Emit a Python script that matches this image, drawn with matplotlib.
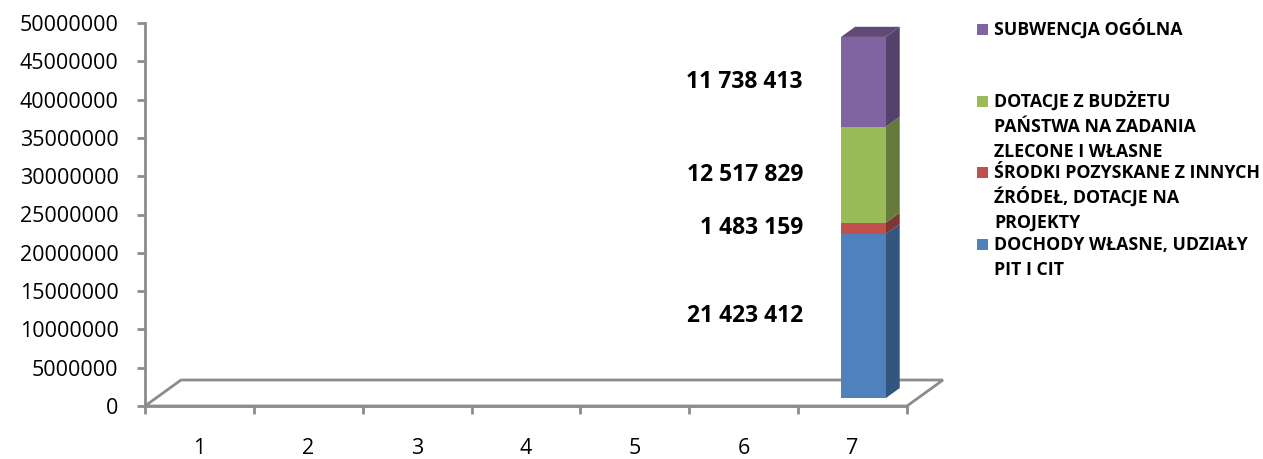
import matplotlib
matplotlib.use("Agg")
import matplotlib.pyplot as plt
from matplotlib.patches import Polygon, Rectangle
from matplotlib.ticker import FuncFormatter
import numpy as np

plt.rcParams['font.family'] = ['Open Sans', 'DejaVu Sans']

# data
categories = [1, 2, 3, 4, 5, 6, 7]
series_names = [
    "DOCHODY WŁASNE, UDZIAŁY\nPIT I CIT",
    "ŚRODKI POZYSKANE Z INNYCH\nŹRÓDEŁ, DOTACJE NA\nPROJEKTY",
    "DOTACJE Z BUDŻETU\nPAŃSTWA NA ZADANIA\nZLECONE I WŁASNE",
    "SUBWENCJA OGÓLNA",
]
# only category 7 has values
series_values = [
    [0, 0, 0, 0, 0, 0, 21423412],
    [0, 0, 0, 0, 0, 0, 1483159],
    [0, 0, 0, 0, 0, 0, 12517829],
    [0, 0, 0, 0, 0, 0, 11738413],
]
data_labels = ["21 423 412", "1 483 159", "12 517 829", "11 738 413"]
yticks = [0, 5000000, 10000000, 15000000, 20000000, 25000000,
          30000000, 35000000, 40000000, 45000000, 50000000]

front_colors = ['#4F81BD', '#C0504D', '#9BBB59', '#8064A2']
axis_gray = '#8C8C8C'


def shade(c, f):
    rgb = np.array(matplotlib.colors.to_rgb(c)) * f
    return tuple(rgb)


W, H = 1263, 459
fig = plt.figure(figsize=(W / 100, H / 100), dpi=100)
ax = fig.add_axes([145 / W, 53 / H, 762 / W, 383 / H])
ax.set_xlim(0.5, 7.5)
ax.set_ylim(0, 50000000)

# 3d depth of floor, in data units
ddx = 36 / (762 / 7)
ddy = 26 * 50000000 / 383
f0, f1 = 0.30, 0.69      # bar depth placement (fraction of floor depth)
bw = 0.41

# floor outline
floor = Polygon([(0.5, 0), (7.5, 0), (7.5 + ddx, ddy), (0.5 + ddx, ddy)],
                closed=True, fill=False, edgecolor=axis_gray, lw=2,
                clip_on=False, zorder=1)
ax.add_patch(floor)

x = np.array(categories, dtype=float) + f0 * ddx
base = f0 * ddy
bdx = (f1 - f0) * ddx
bdy = (f1 - f0) * ddy
cum = np.zeros(len(categories))
for i, vals in enumerate(series_values):
    vals = np.array(vals, dtype=float)
    ax.bar(x, vals, bottom=base + cum, width=bw, color=front_colors[i],
           edgecolor='none', zorder=3, clip_on=False)
    for xi, b, v in zip(x, cum, vals):
        if v <= 0:
            continue
        xr = xi + bw / 2
        b0, t0 = base + b, base + b + v
        side = Polygon([(xr, b0), (xr + bdx, b0 + bdy), (xr + bdx, t0 + bdy), (xr, t0)],
                       closed=True, facecolor=shade(front_colors[i], 0.66),
                       edgecolor='none', zorder=2, clip_on=False)
        ax.add_patch(side)
        # data label
        ax.text(xi - bw / 2 - 0.35, t0 - v / 2, data_labels[i], ha='right', va='center',
                fontsize=16.5, fontweight='bold', color='black')
    cum += vals

# top face of the stack
top_total = base + cum
for xi, t in zip(x, top_total):
    if t <= base:
        continue
    xl, xr = xi - bw / 2, xi + bw / 2
    top = Polygon([(xl, t), (xl + bdx, t + bdy), (xr + bdx, t + bdy), (xr, t)],
                  closed=True, facecolor=shade(front_colors[-1], 0.74),
                  edgecolor='none', zorder=2, clip_on=False)
    ax.add_patch(top)

# axes styling
for s in ['top', 'right']:
    ax.spines[s].set_visible(False)
for s in ['left', 'bottom']:
    ax.spines[s].set_color(axis_gray)
    ax.spines[s].set_linewidth(2)
    ax.spines[s].set_zorder(1)

ax.set_yticks(yticks)
ax.yaxis.set_major_formatter(FuncFormatter(lambda v, p: '%d' % v))
ax.tick_params(axis='y', direction='out', length=5.5, width=2, color=axis_gray,
               labelsize=15.5, pad=13.5)

ax.set_xticks(np.arange(0.5, 8.0, 1.0))
ax.set_xticklabels([])
ax.set_xticks(categories, minor=True)
ax.set_xticklabels([str(c) for c in categories], minor=True)
ax.tick_params(axis='x', which='major', direction='out', length=5.5, width=2, color=axis_gray)
ax.tick_params(axis='x', which='minor', length=0, labelsize=15.5, pad=23)

# legend (manual, to keep Excel-like spacing)
leg_first_baseline = [250, 178, 107, 35]
line_step = 25
for i, name in enumerate(series_names):
    yb = leg_first_baseline[i]
    fig.patches.append(Rectangle((977 / W, 1 - (yb - 0.5) / H), 11 / W, 11 / H,
                                 transform=fig.transFigure, facecolor=front_colors[i],
                                 edgecolor='none'))
    for k, line in enumerate(name.split('\n')):
        fig.text(994 / W, 1 - (yb + k * line_step) / H, line, ha='left', va='baseline',
                 fontsize=12.8, fontweight='bold', color='black')

fig.savefig('out.png', dpi=100)
